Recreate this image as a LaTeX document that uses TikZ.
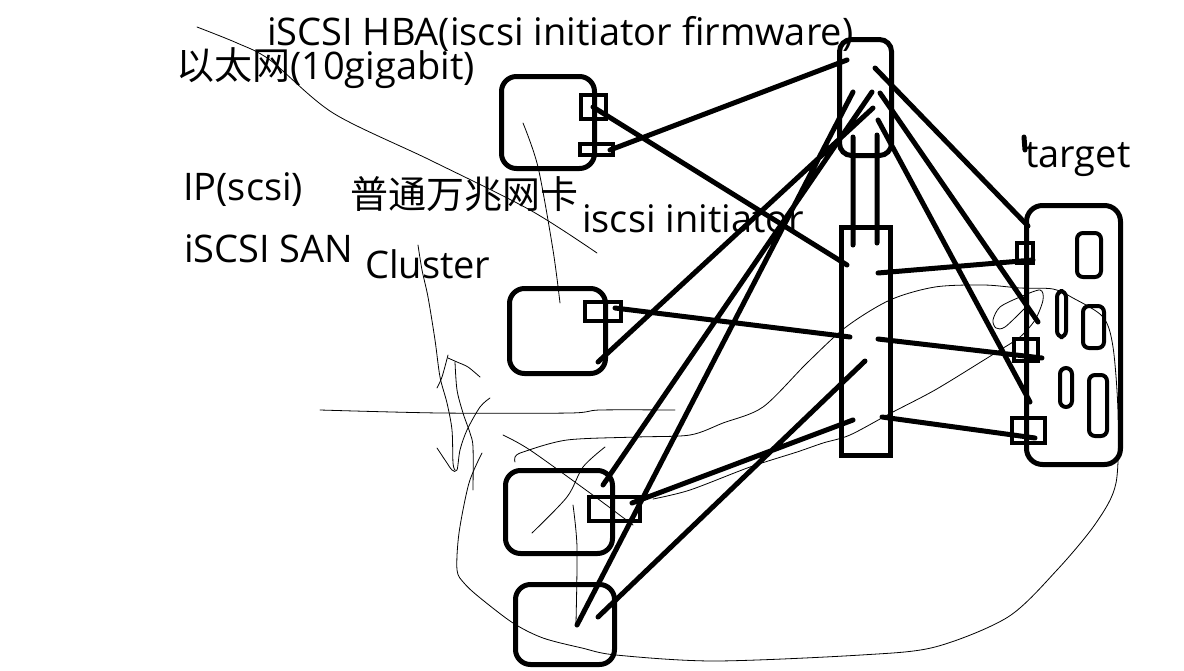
\documentclass[tikz,border=0pt]{standalone}
\usepackage{fontspec}
\setmainfont{Open Sans}
\newfontfamily\cjk{Noto Sans CJK SC}

\begin{document}
\begin{tikzpicture}[x=1pt,y=-1pt,
  srv/.style={draw=black,line width=5pt,rounded corners=15pt,inner sep=0pt},
  port/.style={draw=black,line width=4pt,inner sep=0pt},
  slot/.style={draw=black,line width=4pt,rounded corners=6pt,inner sep=0pt},
  wire/.style={line width=5pt,line cap=round},
  pen/.style={line width=0.8pt,line cap=round,line join=round},
  lbl/.style={inner sep=0pt,anchor=base west,font=\fontsize{38}{40}\selectfont}]

\fill[white] (0,0) rectangle (1184,670);
\useasboundingbox (0,0) rectangle (1184,670);

% pencil scribbles
\draw[pen] plot[smooth] coordinates {(197,27) (237,43) (270,60) (333,113) (430,160) (530,210) (597,253)};
\draw[pen] plot[smooth] coordinates {(523,123) (538,167) (553,250) (560,303)};
\draw[pen] plot[smooth] coordinates {(418,245) (422,270) (428,297) (435,340) (440,377) (447,403) (452,430) (453,463) (455,470)};
\draw[pen] plot[smooth] coordinates {(437,388) (442,377) (448,355)};
\draw[pen] plot[smooth] coordinates {(448,358) (457,362) (468,367) (480,377)};
\draw[pen] plot[smooth] coordinates {(455,362) (457,390) (463,413) (470,433) (473,447) (473,490)};
\draw[pen] plot[smooth] coordinates {(437,448) (447,463) (452,470) (457,470) (460,450) (467,430) (480,407) (490,398)};
\draw[pen] plot[smooth] coordinates {(320,410) (440,413) (570,413) (600,410) (675,410)};
\draw[pen] plot[smooth] coordinates {(503,435) (530,450) (590,493) (633,525)};
\draw[pen] plot[smooth] coordinates {(532,533) (567,497) (583,467) (605,447)};
\draw[pen] plot[smooth] coordinates {(573,505) (577,547) (576,623)};
\draw[pen] plot[smooth] coordinates {(515,462) (515,457) (523,452) (567,440) (637,437) (690,435) (723,423) (763,407) (807,363) (846,327) (890,300) (935,287) (984,285) (1020,288) (1053,289) (1073,298) (1103,317) (1113,347) (1118,413) (1116,483) (1096,523) (1057,570) (1008,617) (935,647) (861,655) (714,661) (616,655) (582,648) (543,638) (513,623) (479,597) (464,583) (457,570) (459,533) (469,483) (482,453)};
\draw[pen] plot[smooth] coordinates {(653,499) (690,490) (750,467) (797,452) (823,443) (850,435) (891,413) (935,390) (984,360) (1000,350) (1020,337) (1035,320) (1043,300) (1040,290) (1020,297) (1000,307) (993,320) (996,328) (1005,327) (1025,308)};

% servers of the cluster
\node[srv,minimum width=93pt,minimum height=92pt] (s1) at (548,122.5) {};
\node[srv,minimum width=96pt,minimum height=85pt] (s2) at (557.5,331) {};
\node[srv,minimum width=107pt,minimum height=83pt] (s3) at (559,512) {};
\node[srv,minimum width=99pt,minimum height=80pt] (s4) at (565,624.5) {};
\node[port,minimum width=25pt,minimum height=24pt] (p1a) at (593.5,107) {};
\node[port,minimum width=33pt,minimum height=11pt] (p1b) at (596.5,149.5) {};
\node[port,minimum width=36pt,minimum height=19pt] (p2) at (603,311.5) {};
\node[port,minimum width=51pt,minimum height=24pt] (p3) at (614.5,509) {};

% hba, switch, target
\node[srv,rounded corners=12pt,minimum width=52pt,minimum height=116pt] (hba) at (865.5,97.5) {};
\node[draw=black,line width=5pt,inner sep=0pt,minimum width=49pt,minimum height=228pt] (sw) at (866,341.5) {};
\node[srv,rounded corners=16pt,minimum width=94pt,minimum height=259pt] (tgt) at (1073.5,335) {};
\node[port,minimum width=16pt,minimum height=20pt] (t1) at (1025,253) {};
\node[port,minimum width=24pt,minimum height=22pt] (t2) at (1026,350) {};
\node[port,minimum width=33pt,minimum height=25pt] (t3) at (1028.5,430.5) {};
\node[slot,minimum width=24pt,minimum height=44pt] (d1) at (1089,255) {};
\node[slot,minimum width=9pt,minimum height=46pt] (d2) at (1061.5,314) {};
\node[slot,minimum width=21pt,minimum height=42pt] (d3) at (1093.5,327) {};
\node[slot,minimum width=12pt,minimum height=39pt] (d4) at (1066,387.5) {};
\node[slot,minimum width=18pt,minimum height=61pt] (d5) at (1098,405.5) {};

% wire ends
\coordinate (e1) at (610,150);  \coordinate (h1) at (847,60);
\coordinate (e2) at (593,107);  \coordinate (w1) at (847,265);
\coordinate (e3) at (615,308);  \coordinate (w2) at (850,337);
\coordinate (e4) at (632,503);  \coordinate (w3) at (853,420);
\coordinate (e5) at (598,617);  \coordinate (w4) at (865,361);
\coordinate (e6) at (598,362);  \coordinate (h2) at (873,108);
\coordinate (e7) at (603,485);  \coordinate (h3) at (872,92);
\coordinate (e8) at (577,625);  \coordinate (h4) at (853,92);
\coordinate (h5) at (875,68);   \coordinate (g1) at (1028,226);
\coordinate (h6) at (880,93);   \coordinate (g2) at (1038,322);
\coordinate (h7) at (878,120);  \coordinate (g3) at (1030,402);
\coordinate (h8) at (853,137);  \coordinate (w5) at (853,245);
\coordinate (h9) at (877,135);  \coordinate (w6) at (877,243);
\coordinate (w7) at (878,273);  \coordinate (g4) at (1033,260);
\coordinate (w8) at (878,339);  \coordinate (g5) at (1042,358);
\coordinate (w9) at (882,417);  \coordinate (g6) at (1035,438);
\coordinate (k1) at (1024,137); \coordinate (k2) at (1025,150);

\draw[wire] (e1)--(h1) (e2)--(w1) (e3)--(w2) (e4)--(w3) (e5)--(w4) (e6)--(h2) (e7)--(h3) (e8)--(h4);
\draw[wire] (h5)--(g1) (h6)--(g2) (h7)--(g3) (h8)--(w5) (h9)--(w6) (w7)--(g4) (w8)--(g5) (w9)--(g6) (k1)--(k2);

% labels
\node[lbl] (hbaT) at (267,45) {iSCSI HBA(iscsi initiator firmware)};
\node[lbl] (ethT) at (176,79) {{\cjk 以太网}(10gigabit)};
\node[lbl] (ipT) at (183,200) {IP(scsi)};
\node[lbl] (sanT) at (184,262) {iSCSI SAN};
\node[lbl] (nicT) at (350,208) {\cjk 普通万兆网卡};
\node[lbl] (cluT) at (365,278) {Cluster};
\node[lbl] (iniT) at (582,232) {iscsi initiator};
\node[lbl] (tgtT) at (1025,167) {target};
\end{tikzpicture}
\end{document}
